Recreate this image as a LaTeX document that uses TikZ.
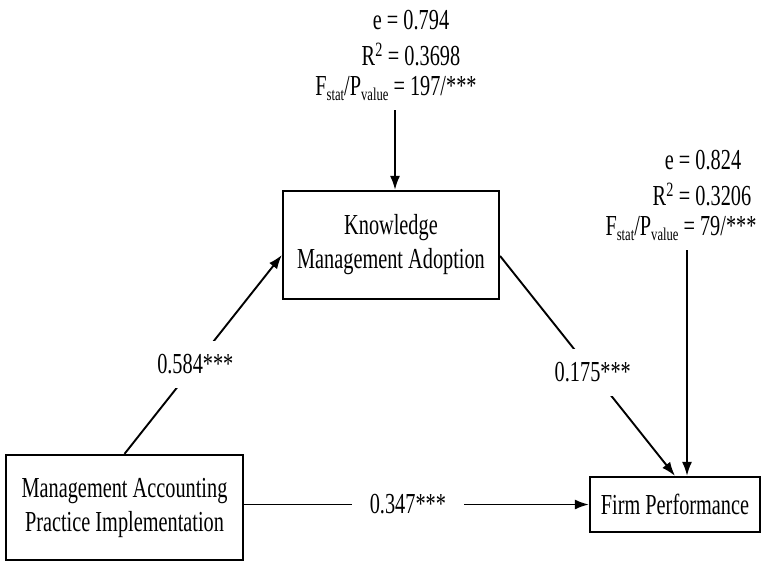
\documentclass[tikz,border=0pt]{standalone}
\usepackage{fontspec}
\setmainfont{Liberation Serif}[FakeStretch=0.7]
\usetikzlibrary{arrows.meta,positioning}
\newcommand{\lowsub}[1]{\raisebox{-5pt}{\fontsize{18}{18}\selectfont #1}}

\begin{document}
\begin{tikzpicture}[x=1pt,y=-1pt,font=\fontsize{29}{34}\selectfont,>=Latex]
\tikzset{box/.style={draw,line width=2.2pt,align=center,inner sep=0pt}, ar/.style={->,line width=1.9pt,>={Latex[length=14pt,width=10pt]}}, coef/.style={fill=white,inner xsep=18pt,inner ysep=14pt}, stat/.style={inner sep=0pt}}
\useasboundingbox (0,0) rectangle (762,562);
\node[box,minimum width=237pt,minimum height=105pt] (MAPI) at (124.5,507.5) {Management Accounting\\Practice Implementation};
\node[box,minimum width=216pt,minimum height=108pt] (KMA) at (391,245) {Knowledge\\Management Adoption};
\node[box,minimum width=170pt,minimum height=55pt] (FP) at (675,504.5) {Firm Performance};
% fit statistics of the two regressions
\node[stat] (e1) at (411,20) {e = 0.794};
\node[stat] (r1) at (411,54) {R\textsuperscript{2} = 0.3698};
\node[stat] (f1) at (396,88) {F\lowsub{stat}/P\lowsub{value} = 197/***};
\node[stat] (e2) at (703,160) {e = 0.824};
\node[stat] (r2) at (702,194) {R\textsuperscript{2} = 0.3206};
\node[stat] (f2) at (681,228) {F\lowsub{stat}/P\lowsub{value} = 79/***};
\draw[ar] (MAPI.north) -- node[coef,pos=0.45]{0.584***} ([yshift=-10pt]KMA.west);
\draw[ar] ([yshift=-11pt]KMA.east) -- node[coef,pos=0.53]{0.175***} (FP.north);
\draw[ar] (MAPI.east |- FP.west) -- node[coef,pos=0.475]{0.347***} (FP.west);
\draw[ar] ([xshift=-1pt,yshift=-22pt]f1.center) -- ([xshift=-1pt]f1.center |- KMA.north);
\draw[ar] ([xshift=6pt,yshift=-22pt]f2.center) -- ([xshift=6pt]f2.center |- FP.north);
\end{tikzpicture}
\end{document}
